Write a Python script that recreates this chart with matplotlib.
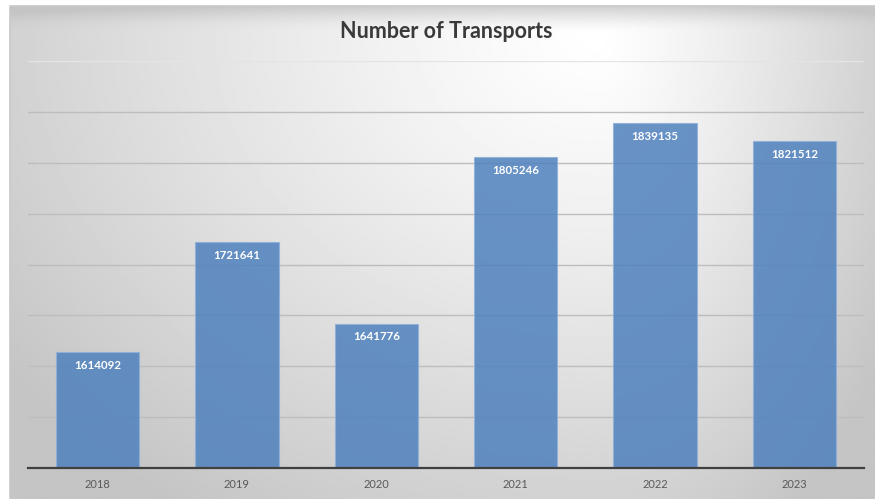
import numpy as np
import matplotlib
matplotlib.use("Agg")
import matplotlib.pyplot as plt

# -----------------------------
# DATA
# -----------------------------
years = ["2018", "2019", "2020", "2021", "2022", "2023"]
transports = [1614092, 1721641, 1641776, 1805246, 1839135, 1821512]
title = "Number of Transports"

BAR_COLOR = "#4F81BD"
FONT = ["Lato", "DejaVu Sans"]

W, H = 875, 499
fig = plt.figure(figsize=(W / 100, H / 100), dpi=100)

# -----------------------------
# GRADIENT BACKGROUND (chart frame)
# -----------------------------
x0, y0 = 10, 6
bg = fig.add_axes([x0 / W, 0, (W - x0) / W, (H - y0) / H])
bg.set_axis_off()
nx, ny = 400, 240
xs = np.linspace(0, 1, nx)
ys = np.linspace(0, 1, ny)
X, Y = np.meshgrid(xs, ys)
cx, cy = 0.68, 0.05
u = np.where(X < cx, (cx - X) / cx, (X - cx) / (1 - cx))
v = np.where(Y < cy, (cy - Y) / cy, (Y - cy) / (1 - cy))
r = np.clip(np.sqrt(u ** 2 + v ** 2) / 1.25, 0, 1)
shade = 1.0 - 0.23 * r ** 1.2
bg.imshow(shade, cmap="gray", vmin=0, vmax=1, aspect="auto",
          extent=[0, 1, 1, 0], interpolation="bilinear")
bg.set_xlim(0, 1)
bg.set_ylim(1, 0)
bg.plot([0, 0, 1], [1, 0, 0], color="#c8c8c8", lw=1.2, clip_on=False)

# -----------------------------
# BAR CHART
# -----------------------------
left, right = 28, 864
top, bottom = 61, 468
ax = fig.add_axes([left / W, 1 - bottom / H, (right - left) / W, (bottom - top) / H])
ax.patch.set_alpha(0)

x = np.arange(len(years))
bars = ax.bar(x, transports, width=0.6, color=BAR_COLOR, alpha=0.85,
              edgecolor="#8fb0da", linewidth=0.8, zorder=3)

ax.set_ylim(1500000, 1900000)
ax.set_xlim(-0.5, len(years) - 0.5)
ax.set_yticks(np.arange(1550000, 1850001, 50000))
ax.yaxis.grid(True, color="#bdbdbd", linewidth=1.0, zorder=0)
ax.axhline(1900000, color="#e4e4e4", linewidth=1.0, zorder=0)
ax.tick_params(axis="y", left=False, labelleft=False)
ax.tick_params(axis="x", length=0, pad=8, labelsize=8, labelcolor="#595959")
ax.set_xticks(x)
ax.set_xticklabels(years, fontfamily=FONT)

for s in ["top", "right", "left"]:
    ax.spines[s].set_visible(False)
ax.spines["bottom"].set_color("#404040")
ax.spines["bottom"].set_linewidth(1.6)
ax.spines["bottom"].set_zorder(4)

for xi, val in zip(x, transports):
    ax.annotate(str(val), (xi, val), xytext=(0, -5.5), textcoords="offset points",
                ha="center", va="top", color="white", fontsize=8.3,
                fontweight="bold", fontfamily=FONT, zorder=5)

fig.text(446 / W, 1 - 32 / H, title, ha="center", va="center",
         fontsize=15.5, fontweight="bold", color="#3a3a3a", fontfamily=FONT)

fig.savefig("out.png", dpi=100)
